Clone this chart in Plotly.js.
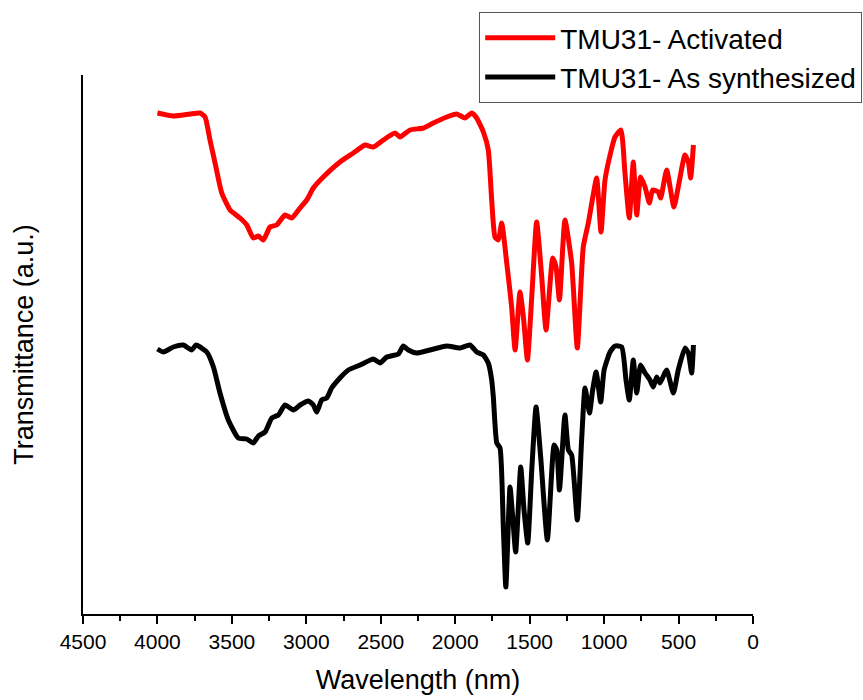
<!DOCTYPE html>
<html>
<head>
<meta charset="utf-8">
<script src="https://cdn.plot.ly/plotly-3.0.1.min.js"></script>
<style>html,body{margin:0;padding:0;background:#fff;}#chart{width:863px;height:700px;}</style>
</head>
<body>
<div id="chart"></div>
<script>
const activatedX = [4000,3893,3781,3714,3680,3647,3613,3568,3512,3445,3400,3356,3322,3289,3244,3199,3143,3098,3042,2997,2953,2886,2774,2684,2606,2550,2483,2404,2371,2304,2214,2147,2057,1990,1934,1889,1856,1811,1778,1755,1733,1710,1688,1654,1621,1598,1565,1542,1515,1486,1453,1419,1390,1345,1323,1300,1263,1218,1180,1140,1106,1077,1050,1021,994,960,927,887,860,831,804,781,755,725,696,674,636,620,580,531,502,457,434,419,400];
const activatedY = [501,498,500,501,497,474,451,421,404,396,389,376,378,374,387,389,399,396,406,414,426,437,452,461,469,467,474,481,477,484,486,491,497,500,496,501,496,482,464,414,377,374,391,351,307,264,322,297,254,317,392,337,284,356,347,314,394,351,266,367,391,416,436,382,434,459,477,484,441,396,452,399,437,427,411,424,422,416,444,407,427,459,452,436,469];

const synthX = [4000,3960,3893,3826,3770,3741,3669,3624,3580,3524,3457,3400,3356,3322,3277,3232,3188,3143,3087,3042,2986,2953,2930,2897,2863,2830,2774,2718,2639,2550,2505,2460,2382,2349,2315,2259,2170,2057,1968,1901,1856,1811,1778,1755,1744,1721,1699,1677,1660,1632,1614,1594,1560,1538,1513,1486,1457,1426,1381,1336,1318,1300,1263,1240,1218,1180,1151,1128,1098,1077,1054,1023,1000,960,927,882,853,831,804,781,755,725,692,670,647,625,580,535,502,457,434,412,400];
const synthY = [265,262,267,269,264,269,262,247,221,194,176,175,171,178,182,196,199,209,204,209,213,209,202,214,216,226,236,244,249,255,251,257,260,268,264,261,264,268,266,269,262,259,251,234,217,171,166,87,27,127,97,62,147,104,71,144,207,157,74,169,164,124,199,164,159,94,174,226,201,224,242,212,244,262,268,267,234,214,254,221,249,241,234,227,237,231,244,221,244,266,261,241,269];

const seriesNames = ["TMU31- Activated", "TMU31- As synthesized"];
const xTickVals = [4500,4000,3500,3000,2500,2000,1500,1000,500,0];

const FONT = "Liberation Sans, Arial, sans-serif";

const traces = [
  {x: activatedX, y: activatedY, name: seriesNames[0], type: "scatter", mode: "lines",
   line: {color: "#ff0000", width: 5, shape: "spline", smoothing: 0.5}},
  {x: synthX, y: synthY, name: seriesNames[1], type: "scatter", mode: "lines",
   line: {color: "#000000", width: 5, shape: "spline", smoothing: 0.5}}
];

const layout = {
  width: 863, height: 700,
  margin: {l: 83, r: 110, t: 75, b: 86, autoexpand: false},
  paper_bgcolor: "#ffffff", plot_bgcolor: "#ffffff",
  font: {family: FONT, color: "#000", size: 21},
  showlegend: true,
  legend: {
    x: 1.163, xanchor: "right", y: 1.117, yanchor: "top",
    bgcolor: "#ffffff", bordercolor: "#555555", borderwidth: 1,
    font: {family: FONT, size: 28, color: "#000"},
    itemwidth: 70, tracegroupgap: 0
  },
  xaxis: {
    range: [4500, 0], autorange: false,
    tickvals: xTickVals, ticktext: xTickVals.map(String),
    ticks: "outside", ticklen: 8, tickwidth: 2, tickcolor: "#000",
    minor: {dtick: 250, tick0: 0, ticks: "outside", ticklen: 5, tickwidth: 2, tickcolor: "#000", showgrid: false},
    showline: true, linecolor: "#000", linewidth: 2,
    showgrid: false, zeroline: false,
    tickfont: {family: FONT, size: 21, color: "#000"},
    title: {text: "Wavelength (nm)", font: {family: FONT, size: 27, color: "#000"}, standoff: 18}
  },
  yaxis: {
    range: [0, 539], autorange: false,
    showticklabels: false, ticks: "",
    showline: true, linecolor: "#000", linewidth: 2,
    showgrid: false, zeroline: false,
    title: {text: "Transmittance (a.u.)", font: {family: FONT, size: 27, color: "#000"}, standoff: 40}
  }
};

Plotly.newPlot("chart", traces, layout, {displayModeBar: false, staticPlot: true});
</script>
</body>
</html>
